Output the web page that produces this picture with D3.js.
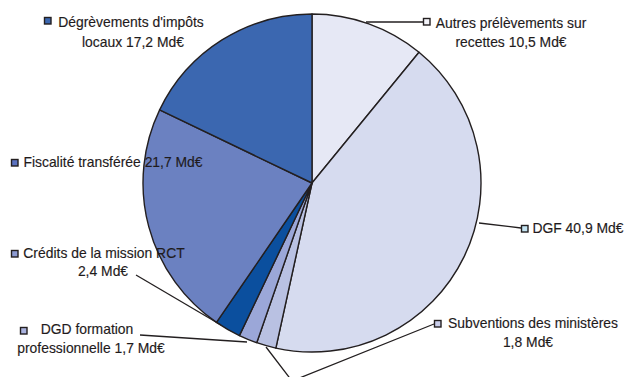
<!DOCTYPE html>
<html>
<head>
<meta charset="utf-8">
<script src="https://cdn.jsdelivr.net/npm/d3@7"></script>
<style>
  body { margin: 0; background: #fff; }
  text { font-family: "Liberation Sans", Arial, sans-serif; font-size: 13.9px; fill: #1f1b1c; stroke: #1f1b1c; stroke-width: 0.15px; }
</style>
</head>
<body>
<div id="chart"></div>
<script>
// slices, clockwise from 12 o'clock
const categories = [
  'Autres prélèvements sur recettes',
  'DGF',
  'Subventions des ministères',
  'DGD formation professionnelle',
  'Crédits de la mission RCT',
  'Fiscalité transférée',
  "Dégrèvements d'impôts locaux"
];
const values = [10.5, 40.9, 1.8, 1.7, 2.4, 21.7, 17.2];
const labelLines = [
  ['Autres prélèvements sur', 'recettes 10,5 Md€'],
  ['DGF 40,9 Md€'],
  ['Subventions des ministères', '1,8 Md€'],
  ['DGD formation', 'professionnelle 1,7 Md€'],
  ['Crédits de la mission RCT', '2,4 Md€'],
  ['Fiscalité transférée 21,7 Md€'],
  ["Dégrèvements d'impôts", 'locaux 17,2 Md€']
];

const sliceColors = ['#e6e8f5', '#d6dbef', '#b9c1e2', '#9ba7d8', '#0b4f9e', '#6b81c1', '#3b67b0'];
const swatchColors = ['#f4f4fa', '#c4e4f2', '#c9cdea', '#aab3df', '#8d9bd2', '#5b72c0', '#3b67b0'];

// label layout: swatch position, text line anchors, leader polyline
const layout = [
  {sq: [423, 18], lines: [[511, 28], [511, 47]], leader: [[366, 22], [423, 22]]},
  {sq: [521, 225], lines: [[578, 233]], leader: [[479, 223], [521, 228]]},
  {sq: [434, 320], lines: [[533, 328], [528, 347]], leader: [[434, 324], [292, 381], [266, 347]]},
  {sq: [20, 327], lines: [[87, 334], [91, 353]], leader: [[140, 335], [247, 342]]},
  {sq: [11, 250], lines: [[104, 258], [103, 276]], leader: [[136, 275], [221, 325]]},
  {sq: [11, 159], lines: [[113, 167]], leader: null},
  {sq: [44, 17], lines: [[131, 27], [133, 47]], leader: null}
];

const width = 624, height = 377;
const cx = 312, cy = 183, radius = 169;

const svg = d3.select('#chart')
  .append('svg')
    .attr('width', width)
    .attr('height', height);

const data = categories.map((c, i) => ({name: c, value: values[i], i: i}));

const pie = d3.pie()
  .sort(null)
  .value(d => d.value);

const arc = d3.arc()
  .innerRadius(0)
  .outerRadius(radius);

const pieGroup = svg.append('g')
  .attr('transform', 'translate(' + cx + ',' + cy + ')');

pieGroup.selectAll('path')
  .data(pie(data))
  .enter()
  .append('path')
    .attr('d', arc)
    .attr('fill', d => sliceColors[d.data.i])
    .attr('stroke', '#231f20')
    .attr('stroke-width', 1.4)
    .attr('stroke-linejoin', 'round');

// leader lines
const line = d3.line();
layout.forEach(l => {
  if (l.leader) {
    svg.append('path')
      .attr('d', line(l.leader))
      .attr('fill', 'none')
      .attr('stroke', '#231f20')
      .attr('stroke-width', 1.3);
  }
});

// labels
data.forEach((d, i) => {
  const l = layout[i];
  svg.append('rect')
    .attr('x', l.sq[0] + 0.5)
    .attr('y', l.sq[1] + 0.5)
    .attr('width', 6.5)
    .attr('height', 6.5)
    .attr('fill', swatchColors[i])
    .attr('stroke', '#231f20')
    .attr('stroke-width', 1.4);

  labelLines[i].forEach((t, j) => {
    svg.append('text')
      .attr('x', l.lines[j][0])
      .attr('y', l.lines[j][1])
      .attr('text-anchor', 'middle')
      .text(t);
  });
});
</script>
</body>
</html>
